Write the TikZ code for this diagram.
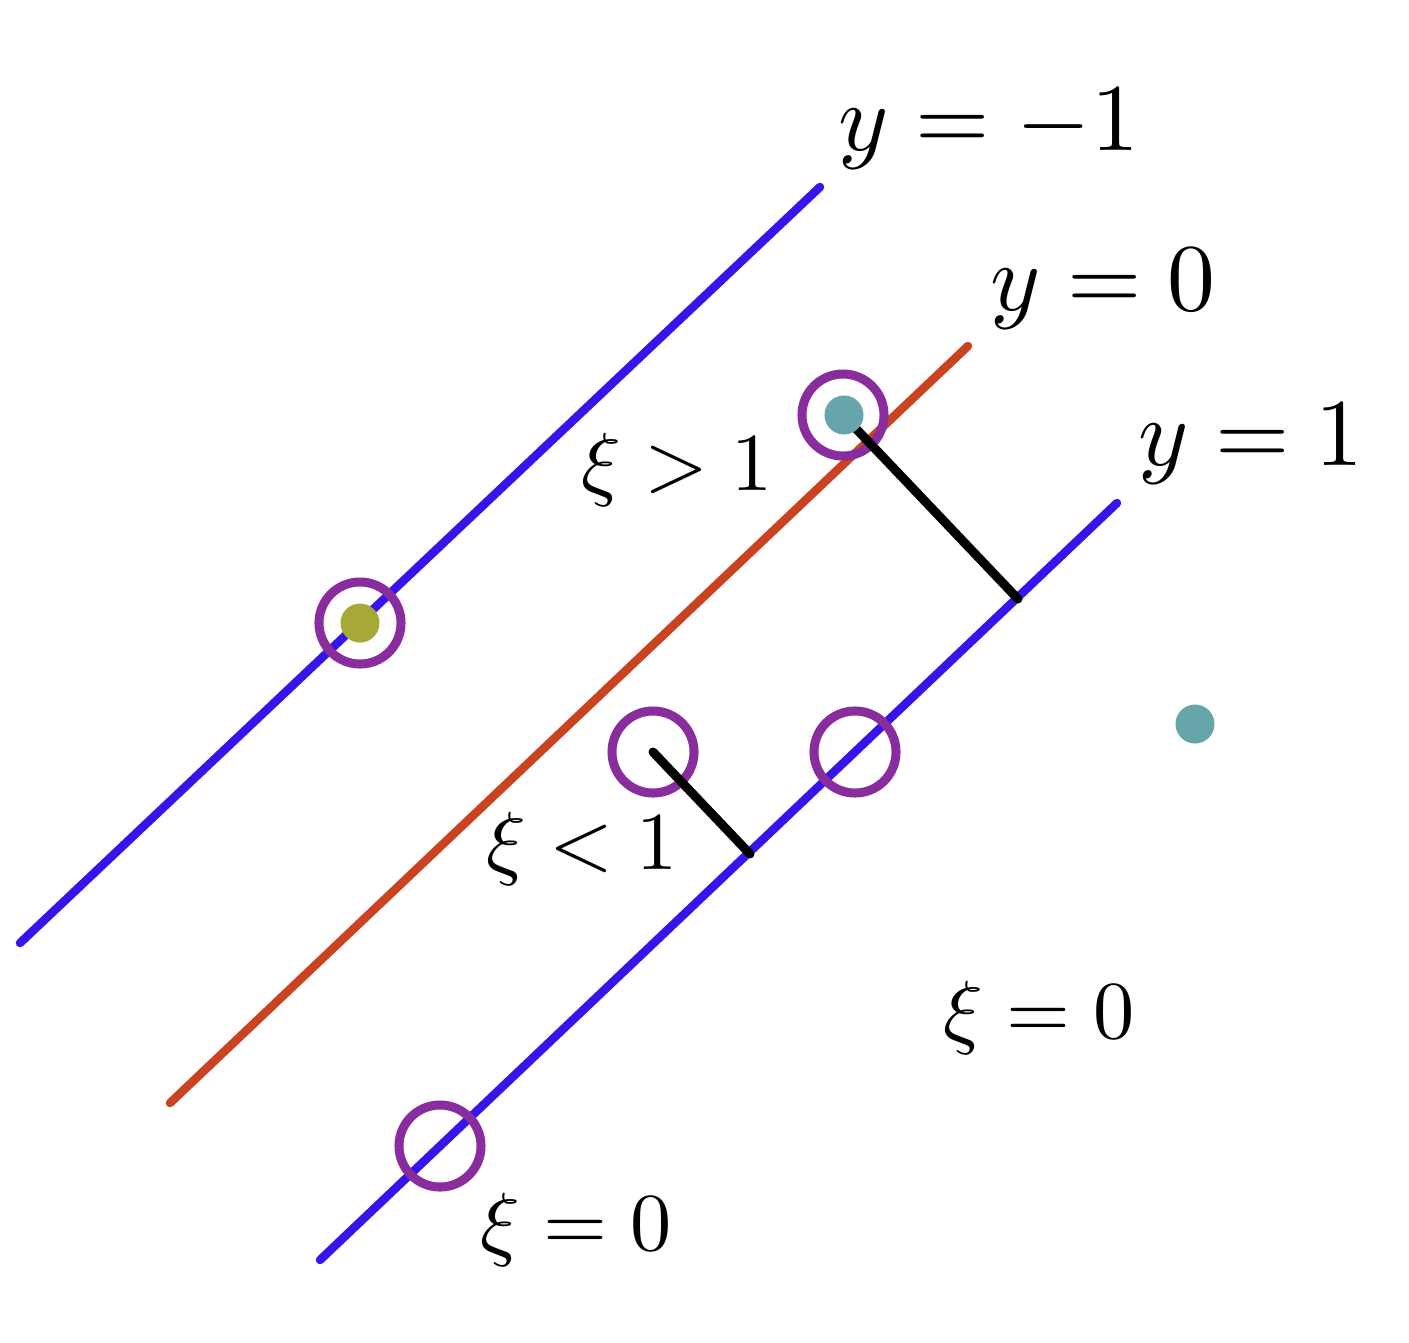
\documentclass[tikz,border=0pt]{standalone}
\begin{document}
\begin{tikzpicture}[x=0.01cm,y=-0.01cm,
  bline/.style={line width=0.085cm,line cap=round,draw=lineblue},
  rline/.style={line width=0.085cm,line cap=round,draw=linered},
  perp/.style={line width=0.09cm,line cap=round,draw=black},
  ring/.style={circle,draw=ringpurple,line width=0.09cm,minimum size=0.82cm,inner sep=0pt},
  dot/.style={circle,inner sep=0pt,minimum size=0.39cm},
  ylab/.style={anchor=base,scale=2.72,inner sep=0pt},
  xilab/.style={anchor=base,scale=2.34,inner sep=0pt}]
\definecolor{lineblue}{RGB}{55,20,235}
\definecolor{linered}{RGB}{202,66,32}
\definecolor{ringpurple}{RGB}{136,44,158}
\definecolor{dotgreen}{RGB}{168,168,56}
\definecolor{dotteal}{RGB}{102,166,170}
\useasboundingbox (0,0) rectangle (1409,1342);
% line end points
\coordinate (a1) at (20,943);   \coordinate (a2) at (820,187);
\coordinate (b1) at (170,1103); \coordinate (b2) at (968,346);
\coordinate (c1) at (320,1260); \coordinate (c2) at (1117,503);
\coordinate (f1) at (1018,599);
\coordinate (f2) at (750,854);
\draw[bline] (a1) -- (a2);
\draw[rline] (b1) -- (b2);
\draw[bline] (c1) -- (c2);
% circles
\node[ring] (r1) at (360,623) {};
\node[ring] (r2) at (843,415) {};
\node[ring] (r3) at (653,752) {};
\node[ring] (r4) at (855,752) {};
\node[ring] (r5) at (440,1146) {};
% perpendicular distances
\draw[perp] (r2.center) -- (f1);
\draw[perp] (r3.center) -- (f2);
% dots
\node[dot,fill=dotgreen] (d1) at (360,623) {};
\node[dot,fill=dotteal] (d2) at (844,415) {};
\node[dot,fill=dotteal] (d3) at (1195,724) {};
% labels
\node[ylab] (l1) at (989,150) {$y=-1$};
\node[ylab] (l2) at (1103,310) {$y=0$};
\node[ylab] (l3) at (1251,465) {$y=1$};
\node[xilab] (l4) at (677,490) {$\xi>1$};
\node[xilab] (l5) at (582,869) {$\xi<1$};
\node[xilab] (l6) at (1039,1038) {$\xi=0$};
\node[xilab] (l7) at (576,1250) {$\xi=0$};
\end{tikzpicture}
\end{document}
